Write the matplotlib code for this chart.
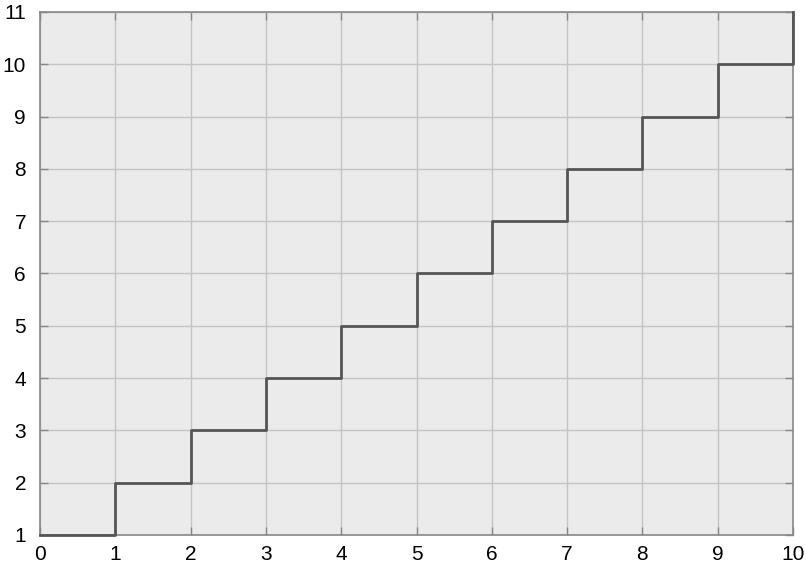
import numpy as np
import matplotlib
matplotlib.use('Agg')
import matplotlib.pyplot as plt

# stairs data
x = [0, 1, 2, 3, 4, 5, 6, 7, 8, 9, 10]
y = [1, 2, 3, 4, 5, 6, 7, 8, 9, 10, 11]
xticks = [0, 1, 2, 3, 4, 5, 6, 7, 8, 9, 10]
yticks = [1, 2, 3, 4, 5, 6, 7, 8, 9, 10, 11]

plt.rcParams['font.family'] = ['Liberation Sans', 'DejaVu Sans']

fig = plt.figure(figsize=(8.06, 5.68), dpi=100)
ax = fig.add_axes([40/806, 33/568, 753/806, 523/568])
ax.set_facecolor('#ebebeb')

ax.step(x, y, where='post', color='#555555', linewidth=2, clip_on=False, zorder=5)

ax.set_xlim(0, 10)
ax.set_ylim(1, 11)
ax.set_xticks(xticks)
ax.set_yticks(yticks)
ax.grid(True, color='#c4c4c4', linewidth=1)
ax.set_axisbelow(True)

ax.tick_params(direction='in', length=6, width=1, color='#888888',
               top=True, right=True, labelsize=15)
ax.tick_params(axis='y', pad=10)
ax.tick_params(axis='x', pad=7)
for s in ax.spines.values():
    s.set_color('#888888')
    s.set_linewidth(1.2)

fig.savefig('out.png', dpi=100)
